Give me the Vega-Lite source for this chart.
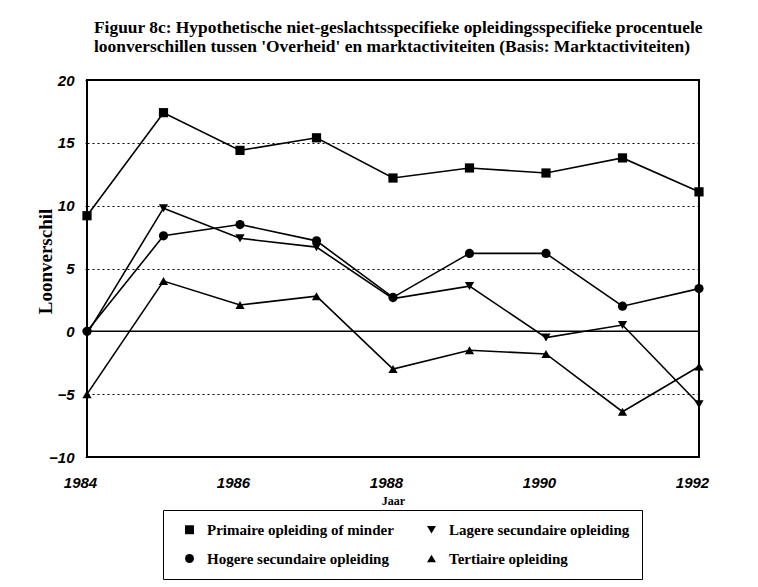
{
  "$schema": "https://vega.github.io/schema/vega-lite/v6.json",
  "width": 612,
  "height": 377,
  "autosize": "none",
  "padding": {"left": 87, "top": 80, "right": 59, "bottom": 130},
  "background": "white",
  "title": {
    "text": ["Figuur 8c: Hypothetische niet-geslachtsspecifieke opleidingsspecifieke procentuele", "loonverschillen tussen 'Overheid' en marktactiviteiten (Basis: Marktactiviteiten)"],
    "anchor": "start",
    "frame": "group",
    "dx": 7,
    "offset": 18,
    "font": "Liberation Serif",
    "fontSize": 17.4,
    "fontWeight": "bold",
    "lineHeight": 19,
    "color": "black"
  },
  "data": {
    "values": [
      {"year": 1984, "series": "Primaire opleiding of minder", "value": 9.2},
      {"year": 1985, "series": "Primaire opleiding of minder", "value": 17.4},
      {"year": 1986, "series": "Primaire opleiding of minder", "value": 14.4},
      {"year": 1987, "series": "Primaire opleiding of minder", "value": 15.4},
      {"year": 1988, "series": "Primaire opleiding of minder", "value": 12.2},
      {"year": 1989, "series": "Primaire opleiding of minder", "value": 13.0},
      {"year": 1990, "series": "Primaire opleiding of minder", "value": 12.6},
      {"year": 1991, "series": "Primaire opleiding of minder", "value": 13.8},
      {"year": 1992, "series": "Primaire opleiding of minder", "value": 11.1},
      {"year": 1984, "series": "Lagere secundaire opleiding", "value": -0.2},
      {"year": 1985, "series": "Lagere secundaire opleiding", "value": 9.8},
      {"year": 1986, "series": "Lagere secundaire opleiding", "value": 7.4},
      {"year": 1987, "series": "Lagere secundaire opleiding", "value": 6.7},
      {"year": 1988, "series": "Lagere secundaire opleiding", "value": 2.6},
      {"year": 1989, "series": "Lagere secundaire opleiding", "value": 3.6},
      {"year": 1990, "series": "Lagere secundaire opleiding", "value": -0.5},
      {"year": 1991, "series": "Lagere secundaire opleiding", "value": 0.5},
      {"year": 1992, "series": "Lagere secundaire opleiding", "value": -5.8},
      {"year": 1984, "series": "Hogere secundaire opleiding", "value": 0.0},
      {"year": 1985, "series": "Hogere secundaire opleiding", "value": 7.6},
      {"year": 1986, "series": "Hogere secundaire opleiding", "value": 8.5},
      {"year": 1987, "series": "Hogere secundaire opleiding", "value": 7.2},
      {"year": 1988, "series": "Hogere secundaire opleiding", "value": 2.7},
      {"year": 1989, "series": "Hogere secundaire opleiding", "value": 6.2},
      {"year": 1990, "series": "Hogere secundaire opleiding", "value": 6.2},
      {"year": 1991, "series": "Hogere secundaire opleiding", "value": 2.0},
      {"year": 1992, "series": "Hogere secundaire opleiding", "value": 3.4},
      {"year": 1984, "series": "Tertiaire opleiding", "value": -5.0},
      {"year": 1985, "series": "Tertiaire opleiding", "value": 4.0},
      {"year": 1986, "series": "Tertiaire opleiding", "value": 2.1},
      {"year": 1987, "series": "Tertiaire opleiding", "value": 2.8},
      {"year": 1988, "series": "Tertiaire opleiding", "value": -3.0},
      {"year": 1989, "series": "Tertiaire opleiding", "value": -1.5},
      {"year": 1990, "series": "Tertiaire opleiding", "value": -1.8},
      {"year": 1991, "series": "Tertiaire opleiding", "value": -6.4},
      {"year": 1992, "series": "Tertiaire opleiding", "value": -2.8}
    ]
  },
  "layer": [
    {
      "mark": {"type": "line", "color": "black", "strokeWidth": 1.6},
      "encoding": {
        "detail": {"field": "series"},
        "x": {
          "field": "year",
          "type": "quantitative",
          "scale": {"domain": [1984, 1992], "nice": false, "zero": false},
          "axis": {
            "title": "Jaar",
            "values": [1984, 1986, 1988, 1990, 1992],
            "format": "d",
            "grid": false,
            "domain": false,
            "ticks": false,
            "labelPadding": 18,
            "labelOffset": -7,
            "labelFont": "Liberation Sans",
            "labelFontSize": 15,
            "labelFontWeight": "bold",
            "labelFontStyle": "italic",
            "labelColor": "black",
            "titleFont": "Liberation Serif",
            "titleFontSize": 12,
            "titleFontWeight": "bold",
            "titleColor": "black",
            "titlePadding": 5
          }
        },
        "y": {
          "field": "value",
          "type": "quantitative",
          "scale": {"domain": [-10, 20], "nice": false, "zero": false},
          "axis": {
            "title": "Loonverschil",
            "values": [-10, -5, 0, 5, 10, 15, 20],
            "grid": true,
            "gridDash": [2, 3],
            "gridColor": "black",
            "gridWidth": 1.2,
            "gridOpacity": 1,
            "domain": false,
            "tickSize": 2,
            "tickColor": "black",
            "labelPadding": 11,
            "labelFont": "Liberation Sans",
            "labelFontSize": 15,
            "labelFontWeight": "bold",
            "labelFontStyle": "italic",
            "labelColor": "black",
            "titleFont": "Liberation Serif",
            "titleFontSize": 19,
            "titleFontWeight": "bold",
            "titleColor": "black",
            "titleX": -42,
            "titleY": 181,
            "titleAngle": -90,
            "titleAlign": "center",
            "titleBaseline": "middle"
          }
        }
      }
    },
    {
      "mark": {"type": "rule", "color": "black", "strokeWidth": 1.5},
      "data": {"values": [{"zero": 0}]},
      "encoding": {"y": {"field": "zero", "type": "quantitative"}}
    },
    {
      "mark": {"type": "point", "filled": true, "size": 85, "opacity": 1},
      "encoding": {
        "x": {"field": "year", "type": "quantitative"},
        "y": {"field": "value", "type": "quantitative"},
        "shape": {
          "field": "series",
          "scale": {
            "domain": ["Primaire opleiding of minder", "Lagere secundaire opleiding", "Hogere secundaire opleiding", "Tertiaire opleiding"],
            "range": ["square", "triangle-down", "circle", "triangle-up"]
          },
          "legend": null
        },
        "color": {
          "field": "series",
          "scale": {
            "domain": ["Primaire opleiding of minder", "Lagere secundaire opleiding", "Hogere secundaire opleiding", "Tertiaire opleiding"],
            "range": ["black", "black", "black", "black"]
          },
          "legend": {
            "title": null,
            "orient": "none",
            "legendX": 76,
            "legendY": 430,
            "columns": 2,
            "direction": "horizontal",
            "columnPadding": 23,
            "rowPadding": 13,
            "padding": 12,
            "strokeColor": "black",
            "symbolSize": 80,
            "symbolOffset": 7,
            "labelOffset": 10,
            "labelFont": "Liberation Serif",
            "labelFontSize": 15,
            "labelFontWeight": "bold",
            "labelColor": "black",
            "labelLimit": 300,
            "encode": {
              "legend": {"strokeWidth": {"value": 1.5}}
            }
          }
        }
      }
    }
  ],
  "config": {
    "view": {"stroke": "black", "strokeWidth": 2},
    "axis": {"labelFlush": false}
  }
}
